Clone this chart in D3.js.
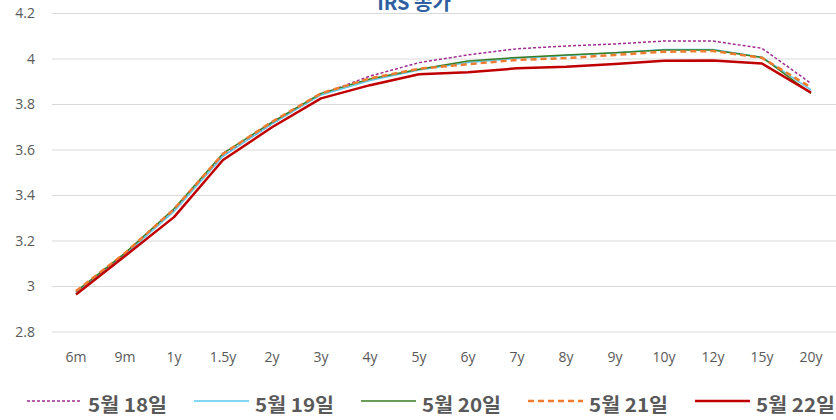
<!DOCTYPE html>
<html><head><meta charset="utf-8">
<script src="https://cdn.jsdelivr.net/npm/d3@7"></script>
<style>body{margin:0;background:#fff}svg{display:block}</style>
</head><body>
<svg id="c" width="836" height="420"></svg>
<script>
const title = "IRS 종가";
const categories = ["6m","9m","1y","1.5y","2y","3y","4y","5y","6y","7y","8y","9y","10y","12y","15y","20y"];
const yTicks = [2.8,3,3.2,3.4,3.6,3.8,4,4.2];
const seriesNames = ["5월 18일","5월 19일","5월 20일","5월 21일","5월 22일"];
const may18 = [2.975,3.145,3.335,3.575,3.715,3.845,3.925,3.984,4.018,4.045,4.057,4.066,4.079,4.079,4.047,3.893];
const may19 = [2.972,3.14,3.33,3.572,3.715,3.842,3.905,3.952,3.985,4.003,4.015,4.028,4.042,4.042,4.008,3.864];
const may20 = [2.978,3.147,3.342,3.585,3.722,3.849,3.912,3.955,3.991,4.007,4.018,4.028,4.04,4.04,4.007,3.849];
const may21 = [2.98,3.147,3.34,3.583,3.724,3.849,3.915,3.957,3.977,3.996,4.004,4.018,4.032,4.035,4.005,3.875];
const may22 = [2.965,3.134,3.305,3.556,3.7,3.827,3.885,3.933,3.942,3.959,3.966,3.978,3.992,3.993,3.98,3.852];
const seriesValues = [may18, may19, may20, may21, may22];
const colors = ["#A02B93","#5CC8F2","#3A7D22","#F07C2F","#C00000"];
const widths = [1.5,1.5,1.5,2.5,2.5];
const dashes = ["3,2",null,null,"6,4",null];

const svg = d3.select("#c");
const x = d3.scalePoint().domain(categories).range([76, 811]);
const y = d3.scaleLinear().domain([2.8,4.2]).range([332, 13.5]);

// gridlines
svg.append("g").selectAll("line").data(yTicks).join("line")
  .attr("x1", 52).attr("x2", 836)
  .attr("y1", d=>y(d)).attr("y2", d=>y(d))
  .attr("stroke","#d9d9d9").attr("stroke-width",1);

// y labels
svg.append("g").selectAll("text").data(yTicks).join("text")
  .attr("x", 35).attr("y", d=>y(d)).attr("dy","0.35em")
  .attr("text-anchor","end")
  .attr("font-family","'Open Sans', 'Noto Sans', sans-serif").attr("font-size",14)
  .attr("fill","#595959").text(d=>d3.format("")(d));

// x labels
svg.append("g").selectAll("text").data(categories).join("text")
  .attr("x", d=>x(d)).attr("y", 357).attr("dy","0.35em")
  .attr("text-anchor","middle")
  .attr("font-family","'Open Sans', 'Noto Sans', sans-serif").attr("font-size",14)
  .attr("fill","#595959").text(d=>d);

// lines
const line = d3.line().x((d,i)=>x(categories[i])).y(d=>y(d));
seriesValues.forEach((vals,k)=>{
  svg.append("path").datum(vals).attr("d", line)
    .attr("fill","none").attr("stroke",colors[k]).attr("stroke-width",widths[k])
    .attr("stroke-dasharray",dashes[k]).attr("stroke-linejoin","round");
});

// title
svg.append("text").attr("x", 414).attr("y", 10).attr("text-anchor","middle")
  .attr("font-family","'Noto Sans CJK KR', sans-serif").attr("font-weight","bold")
  .attr("font-size",20).attr("fill","#2E5FA0").text(title);

// legend
const lg = svg.append("g");
seriesNames.forEach((n,k)=>{
  const x0 = 27 + k*167;
  lg.append("line").attr("x1",x0).attr("x2",x0+55).attr("y1",401).attr("y2",401)
    .attr("stroke",colors[k]).attr("stroke-width",widths[k]).attr("stroke-dasharray",dashes[k]);
  lg.append("text").attr("x",x0+61).attr("y",405).attr("dy","0.36em")
    .attr("font-family","'Noto Sans CJK KR', sans-serif").attr("font-weight","bold")
    .attr("font-size",19).attr("textLength",79).attr("lengthAdjust","spacingAndGlyphs")
    .attr("fill","#595959").text(n);
});
</script>
</body></html>
